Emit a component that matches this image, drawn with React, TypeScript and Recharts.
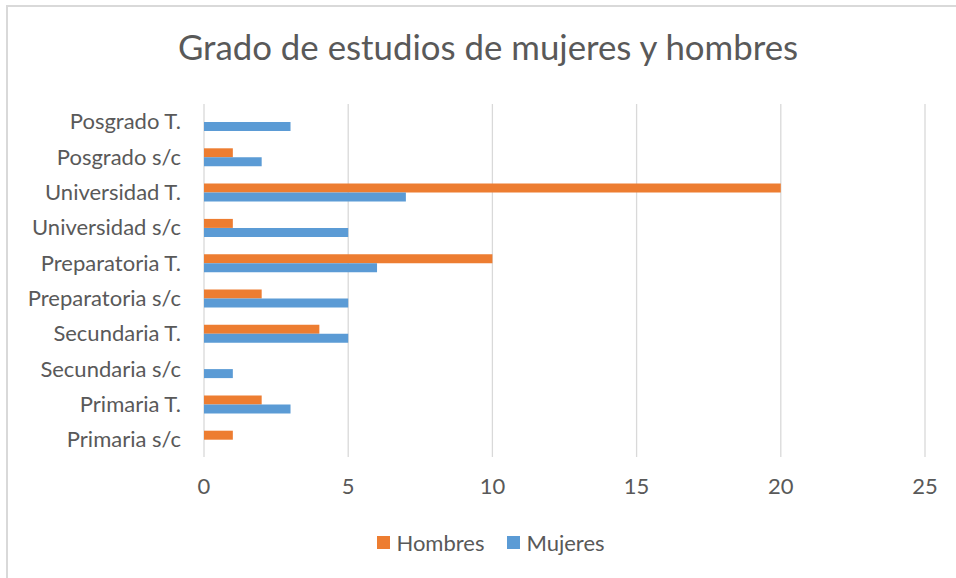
import { BarChart, Bar, XAxis, YAxis, CartesianGrid, Legend } from 'recharts';

const categories = [
  'Posgrado T.',
  'Posgrado s/c',
  'Universidad T.',
  'Universidad s/c',
  'Preparatoria T.',
  'Preparatoria s/c',
  'Secundaria T.',
  'Secundaria s/c',
  'Primaria T.',
  'Primaria s/c',
];
const hombres = [0, 1, 20, 1, 10, 2, 4, 0, 2, 1];
const mujeres = [3, 2, 7, 5, 6, 5, 5, 1, 3, 0];
const xTicks = [0, 5, 10, 15, 20, 25];

const rows = categories.map((c, i) => ({ name: c, Hombres: hombres[i], Mujeres: mujeres[i] }));

const FONT = 'Lato, "Open Sans", sans-serif';
const TEXT = '#595959';
const COLORS: Record<string, string> = { Hombres: '#ED7D31', Mujeres: '#5B9BD5' };

function LegendBox() {
  return (
    <div style={{ display: 'flex', justifyContent: 'center', paddingLeft: 57, height: 28, alignItems: 'center', fontSize: 22, color: TEXT, fontFamily: FONT }}>
      {['Hombres', 'Mujeres'].map((k, i) => (
        <div key={k} style={{ display: 'flex', alignItems: 'center', marginLeft: i ? 23 : 0 }}>
          <span style={{ width: 13, height: 13, background: COLORS[k], marginRight: 6, display: 'inline-block' }} />
          <span>{k}</span>
        </div>
      ))}
    </div>
  );
}

export default function App() {
  return (
    <div style={{ position: 'absolute', left: 0, top: 0, width: 956, height: 578, background: '#fff', overflow: 'hidden', fontFamily: FONT }}>
      <div style={{ position: 'absolute', left: 6, top: 5, width: 1000, height: 700, border: '2px solid #d9d9d9', boxSizing: 'border-box' }} />
      <div style={{ position: 'absolute', top: 27, left: 10, width: 956, textAlign: 'center', fontSize: 34.8, lineHeight: '40px', color: TEXT }}>
        Grado de estudios de mujeres y hombres
      </div>
      <div style={{ position: 'absolute', left: 0, top: 0 }}>
        <BarChart
          width={956}
          height={578}
          data={rows}
          layout="vertical"
          margin={{ top: 104, right: 31, bottom: 22, left: 0 }}
          barGap={0}
          barSize={9}
        >
          <CartesianGrid horizontal={false} stroke="#d9d9d9" strokeWidth={1.3} />
          <XAxis
            type="number"
            domain={[0, 25]}
            ticks={xTicks}
            axisLine={false}
            tickLine={false}
            tickSize={0}
            tickMargin={21}
            height={71}
            tick={{ fill: TEXT, fontSize: 22, fontFamily: FONT }}
          />
          <YAxis
            type="category"
            dataKey="name"
            width={204}
            axisLine={false}
            tickLine={false}
            tickSize={0}
            tickMargin={23}
            interval={0}
            tick={{ fill: TEXT, fontSize: 22, fontFamily: FONT }}
          />
          <Legend content={() => <LegendBox />} />
          <Bar dataKey="Hombres" fill={COLORS.Hombres} isAnimationActive={false} />
          <Bar dataKey="Mujeres" fill={COLORS.Mujeres} isAnimationActive={false} />
        </BarChart>
      </div>
    </div>
  );
}
